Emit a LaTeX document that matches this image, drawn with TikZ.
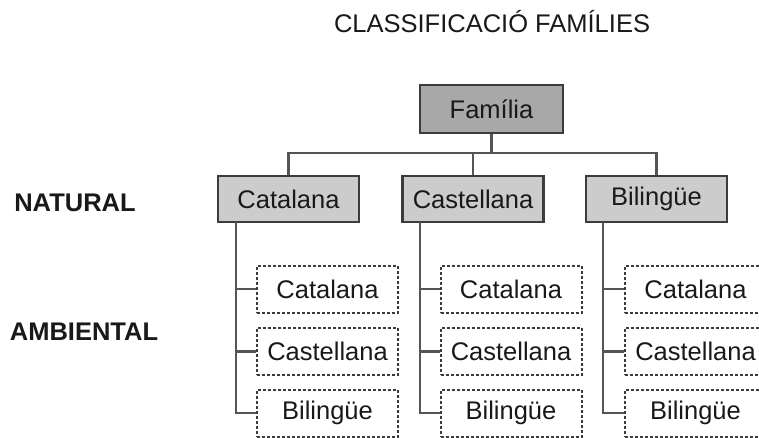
\documentclass[tikz,border=0pt]{standalone}
\usepackage{fontspec}
\setmainfont{Liberation Sans}
\definecolor{txt}{RGB}{25,25,25}
\definecolor{edge}{RGB}{60,60,60}
\definecolor{wire}{RGB}{85,85,85}
\definecolor{topfill}{RGB}{168,168,168}
\definecolor{midfill}{RGB}{204,204,204}
\tikzset{
  every node/.style={font=\fontsize{25.5}{30}\selectfont, text=txt},
  topbox/.style={draw=edge, line width=2.2pt, fill=topfill, minimum width=143pt, minimum height=48pt, inner sep=0pt},
  midbox/.style={draw=edge, line width=2.2pt, fill=midfill, minimum width=141pt, minimum height=46pt, inner sep=0pt},
  subbox/.style={draw=edge, line width=2pt, dash pattern=on 3pt off 2pt, fill=white, minimum width=141pt, minimum height=47pt, inner sep=0pt},
  wireline/.style={draw=wire, line width=2.2pt},
  sidelabel/.style={font=\fontsize{25.5}{30}\selectfont\bfseries},
}
\begin{document}
\begin{tikzpicture}[x=1pt,y=-1pt]
\useasboundingbox (0,0) rectangle (759,437);
\clip (0,0) rectangle (759,437);
\fill[white] (0,0) rectangle (759,437);

\node (title) at (492,22) {CLASSIFICACIÓ FAMÍLIES};
\node[sidelabel] (nat) at (75,203) {NATURAL};
\node[sidelabel] (amb) at (84,332) {AMBIENTAL};

\node[topbox] (fam) at (491.5,109) {Família};
\node[midbox] (c1) at (288.5,199) {Catalana};
\node[midbox] (c2) at (473,199) {Castellana};
\node[midbox] (c3) at (656.5,199) {Bilingüe};

\coordinate (bar) at (491.5,153);
\draw[wireline] (fam.south) -- (bar);
\draw[wireline] (bar) -| (c1.north);
\draw[wireline] (bar) -| (c2.north);
\draw[wireline] (bar) -| (c3.north);

% sub boxes
\foreach \col/\vx/\bx in {1/236/327.5, 2/420/511, 3/603/695.5}{
  \node[subbox] (s\col a) at (\bx,289) {Catalana};
  \node[subbox] (s\col b) at (\bx,351.5) {Castellana};
  \node[subbox] (s\col c) at (\bx,413) {Bilingüe};
  \coordinate (v\col) at (\vx,222);
  \draw[wireline] (v\col) |- (s\col c.west);
  \draw[wireline] (v\col) |- (s\col a.west);
  \draw[wireline] (v\col) |- (s\col b.west);
}
\end{tikzpicture}
\end{document}
